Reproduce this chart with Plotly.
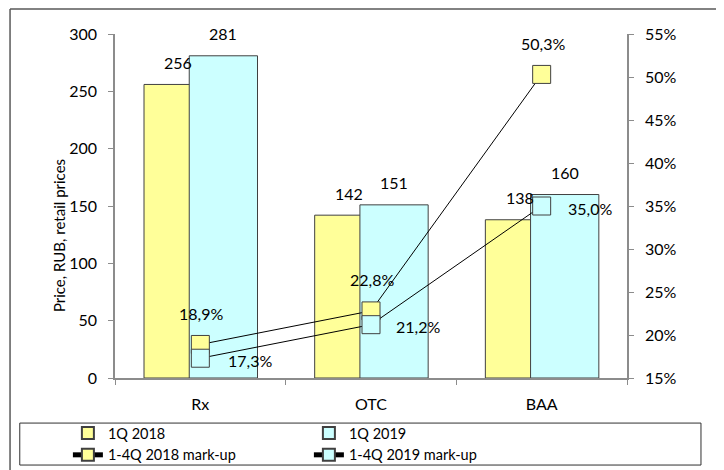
import plotly.graph_objects as go

categories = ["Rx", "OTC", "BAA"]
price_2018 = [256, 142, 138]
price_2019 = [281, 151, 160]
markup_2018 = [18.9, 22.8, 50.3]
markup_2019 = [17.3, 21.2, 35.0]

FONT = "Lato, 'Liberation Sans', sans-serif"
YELLOW = "#FFFF99"
CYAN = "#CCFFFF"
EDGE = "#404040"
AXIS = "#8c8c8c"


def pct(v):
    return f"{v:.1f}%".replace(".", ",")


fig = go.Figure()

fig.add_trace(go.Bar(x=categories, y=price_2018, name="1Q 2018", width=0.4, offset=-0.33,
                     marker=dict(color=YELLOW, line=dict(color=EDGE, width=1))))
fig.add_trace(go.Bar(x=categories, y=price_2019, name="1Q 2019", width=0.4, offset=-0.065,
                     marker=dict(color=CYAN, line=dict(color=EDGE, width=1))))
fig.add_trace(go.Scatter(x=categories, y=markup_2018, name="1-4Q 2018 mark-up", yaxis="y2",
                         mode="lines+markers", line=dict(color="black", width=1),
                         marker=dict(symbol="square", size=18, color=YELLOW,
                                     line=dict(color=EDGE, width=1))))
fig.add_trace(go.Scatter(x=categories, y=markup_2019, name="1-4Q 2019 mark-up", yaxis="y2",
                         mode="lines+markers", line=dict(color="black", width=1),
                         marker=dict(symbol="square", size=18, color=CYAN,
                                     line=dict(color=EDGE, width=1))))

annotations = []
# bar value labels
for cat, v in zip(categories, price_2018):
    annotations.append(dict(x=cat, y=v, text=str(v), xshift=-22, yshift=22, showarrow=False))
for cat, v in zip(categories, price_2019):
    annotations.append(dict(x=cat, y=v, text=str(v), xshift=23, yshift=22, showarrow=False))
# mark-up labels
for cat, v in zip(categories, markup_2018):
    annotations.append(dict(x=cat, y=v, yref="y2", text=pct(v), xshift=1, yshift=31, showarrow=False))
shift_2019 = [50, 47, 48]
for cat, v, dx in zip(categories, markup_2019, shift_2019):
    annotations.append(dict(x=cat, y=v, yref="y2", text=pct(v), xshift=dx, yshift=-2, showarrow=False))
# left axis title, sits lower than the plot centre like in the original
annotations.append(dict(xref="paper", yref="paper", x=-0.109, y=0.413, xanchor="center", yanchor="middle",
                        text="Price, RUB, retail prices", textangle=-90, showarrow=False,
                        font=dict(size=15)))

# the page body adds an 8px margin, so the figure is 8px smaller and margins are shifted
fig.update_layout(
    width=716, height=462,
    margin=dict(l=107, r=97, t=26, b=92, autoexpand=False),
    paper_bgcolor="white", plot_bgcolor="white",
    font=dict(family=FONT, size=16, color="black"),
    barmode="overlay",
    showlegend=True,
    legend=dict(orientation="h", x=-0.092, xanchor="left", y=-0.1135, yanchor="top",
                entrywidth=196, tracegroupgap=0, itemsizing="constant",
                bgcolor="rgba(0,0,0,0)", font=dict(size=14.5)),
    annotations=annotations,
    xaxis=dict(showline=True, linecolor=AXIS, linewidth=1.5, ticks="outside", tickson="boundaries",
               ticklen=5, tickcolor=AXIS, ticklabelstandoff=11, showgrid=False),
    yaxis=dict(range=[0, 300], dtick=50, showline=True, linecolor=AXIS, linewidth=1.5,
               ticks="outside", ticklen=5, tickcolor=AXIS, showgrid=False, zeroline=False,
               ticklabelstandoff=8),
    yaxis2=dict(range=[15, 55], dtick=5, overlaying="y", side="right", showline=True,
                linecolor=AXIS, linewidth=1.5, ticks="outside", ticklen=5, tickcolor=AXIS,
                ticksuffix="%", showgrid=False, zeroline=False, ticklabelstandoff=8),
    shapes=[
        # outer frame (top and left edges visible)
        dict(type="line", xref="paper", yref="paper", x0=-0.205, x1=1.2, y0=1.073, y1=1.073,
             line=dict(color="#595959", width=1.5)),
        dict(type="line", xref="paper", yref="paper", x0=-0.205, x1=-0.205, y0=1.073, y1=-0.3,
             line=dict(color="#595959", width=1.5)),
        # legend box
        dict(type="rect", xref="paper", yref="paper", x0=-0.186, x1=1.1445, y0=-0.131, y1=-0.253,
             line=dict(color="#303030", width=1)),
    ],
)

fig.write_html("out.html")
